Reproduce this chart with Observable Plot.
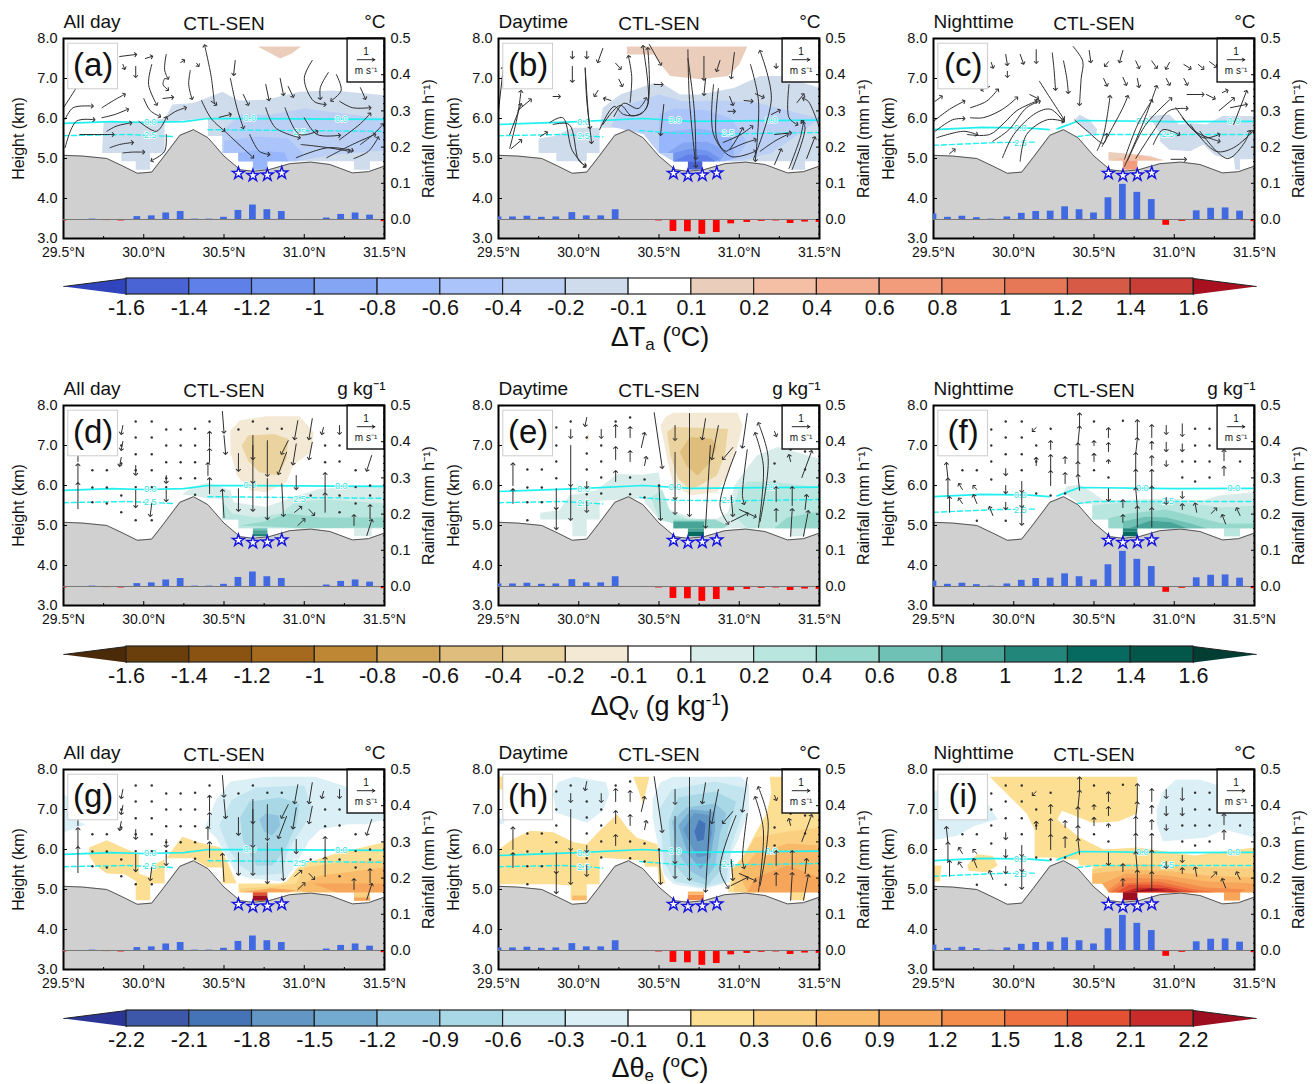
<!DOCTYPE html>
<html><head><meta charset="utf-8">
<script src="https://cdn.jsdelivr.net/npm/d3@7"></script>
<script src="https://cdn.jsdelivr.net/npm/@observablehq/plot@0.6"></script>
<style>
html,body{margin:0;padding:0;background:#fff}
#page{position:relative;width:1314px;height:1084px;overflow:hidden;font-family:"Liberation Sans",Arial,sans-serif;color:#111}
#page>svg,#page>figure{position:absolute;margin:0}
.cbt{position:absolute;left:3px;width:1314px;text-align:center;font-size:27px;line-height:28px}
.cbt sub{font-size:17px;line-height:0;vertical-align:-4px}
.cbt sup{font-size:17px;line-height:0;vertical-align:10px}
</style></head><body><div id="page"></div>
<script>
// ---- shared data -------------------------------------------------------
const terrainLat=[29.5,29.62,29.77,29.87,29.96,30.05,30.12,30.225,30.31,30.4,30.5,30.6,30.68,30.78,30.91,31.04,31.16,31.3,31.4,31.5];
const terrainKm=[5.08,5.06,5.0,4.81,4.63,4.66,5.02,5.58,5.72,5.52,5.06,4.72,4.68,4.72,4.87,4.91,4.85,4.64,4.67,4.81];
const starLat=[30.59,30.68,30.77,30.86];
const starKm=[4.63,4.575,4.59,4.64];
const rainLat=[29.5,29.59,29.68,29.77,29.86,29.96,30.05,30.14,30.23,30.32,30.41,30.5,30.59,30.68,30.77,30.86,30.95,31.05,31.14,31.23,31.32,31.41,31.5];
const rainAllDay=[-0.004,0,0.001,-0.003,-0.004,0.008,0.01,0.018,0.022,0.001,0.001,0.006,0.025,0.04,0.027,0.022,0,-0.001,0.004,0.014,0.018,0.012,-0.006];
const rainDaytime=[0.007,0.007,0.009,0.006,0.007,0.019,0.01,0.01,0.027,0,-0.001,-0.004,-0.033,-0.034,-0.041,-0.036,-0.012,-0.008,-0.005,-0.004,-0.011,-0.007,-0.008];
const rainNighttime=[0.015,0.006,0.009,0.005,0.001,0.007,0.017,0.022,0.023,0.035,0.027,0.018,0.06,0.097,0.075,0.055,-0.016,-0.005,0.024,0.031,0.032,0.023,-0.006];
const rainMinorTicks=[-0.04,-0.02,0.02,0.04,0.06,0.08,0.12,0.14,0.16,0.18,0.22,0.24,0.26,0.28,0.32,0.34,0.36,0.38,0.42,0.44,0.46,0.48];
const latMinorTicks=[29.75,30.25,30.75,31.25];

// Isotherm heights: [lat, km, ...] per segment
const iso0AllDay=[[29.5,5.88,29.8,5.92,30.0,5.9,30.25,5.92,30.4,6.0,31.5,5.98]];
const iso25AllDay=[[29.5,5.57,29.9,5.6,30.18,5.55],[30.4,5.72,31.5,5.68]];
const iso0Daytime=[[29.5,5.85,30.0,5.92,30.4,6.0,30.7,5.93,31.5,5.96]];
const iso25Daytime=[[29.5,5.57,29.9,5.6,30.15,5.54],[30.38,5.7,30.6,5.63,31.0,5.62,31.5,5.65]];
const iso0Nighttime=[[29.5,5.72,29.8,5.78,30.1,5.76,30.22,5.72],[30.27,5.74,30.41,5.95,31.0,5.92,31.5,5.93]];
const iso25Nighttime=[[29.5,5.33,29.9,5.4,30.13,5.41],[30.4,5.55,30.5,5.6,31.5,5.6]];
const isoLabelsAllDay=[["0.0",30.04,5.9],["0.0",30.66,6.0],["0.0",31.23,5.99],["2.5",30.04,5.58],["2.5",30.97,5.66]];
const isoLabelsDaytime=[["0.0",30.03,5.91],["0.0",30.6,5.95],["0.0",31.2,5.97],["2.5",30.03,5.57],["2.5",30.93,5.63]];
const isoLabelsNighttime=[["0.0",30.04,5.77],["0.0",30.8,5.93],["0.0",31.37,5.93],["2.5",30.04,5.39],["2.5",30.96,5.61]];

// Colour bars
const levelsTa=[-1.6,-1.4,-1.2,-1,-0.8,-0.6,-0.4,-0.2,-0.1,0.1,0.2,0.4,0.6,0.8,1,1.2,1.4,1.6];
const colorsTa=["#2f44bd","#4a64d6","#5f80e8","#7094ee","#84a5f4","#98b6fb","#abc5fa","#bcd0f5","#cfdcec","#ffffff","#eacdbb","#f4bfa5","#f4ad90","#f29c7c","#ee8b68","#e67858","#d65a45","#c93f38","#a81020"];
const levelsQv=levelsTa;
const colorsQv=["#4a2a08","#6b3f0c","#8a5312","#a56a1e","#bd8734","#d0a558","#dfbd7c","#ebd3a0","#f4e9d5","#ffffff","#d8ece9","#b9e6df","#97d8cc","#6fc1b5","#47a497","#22867a","#066a60","#02564a","#013d33"];
const levelsTe=[-2.2,-2.1,-1.8,-1.5,-1.2,-0.9,-0.6,-0.3,-0.1,0.1,0.3,0.6,0.9,1.2,1.5,1.8,2.1,2.2];
const colorsTe=["#2a3595","#3d58a8","#4474b5","#6297c5","#73abd0","#90c4de","#a8d7e6","#c3e5ef","#dbeff6","#ffffff","#fddf93","#fbcf80","#f9bb6a","#f7a55a","#f48c4c","#ef7040","#e45032","#c92a2a","#9c0e20"];

// Shaded fields: [band value, [lat, km, lat, km, ...]]
const shadeA=[
[0.15,[30.71,7.8,30.98,7.8,30.92,7.62,30.85,7.5,30.78,7.65]],
[-0.15,[29.75,5.9,29.74,5.14,29.86,5.14,29.86,4.93,29.95,4.93,29.95,4.72,30.04,4.72,30.04,5.14,30.13,5.14,30.13,5.9,30.31,5.98,30.4,6.0,30.4,5.56,30.49,5.56,30.49,5.14,30.59,5.14,30.59,4.93,30.68,4.93,30.68,4.72,30.77,4.72,30.77,4.93,31.31,4.93,31.31,4.72,31.41,4.72,31.41,4.93,31.5,4.93,31.5,6.58,31.18,6.7,30.97,6.67,30.76,6.47,30.59,6.45,30.49,6.67,30.31,6.39,30.18,6.35,30.13,6.0,30.0,5.93]],
[-0.3,[30.49,5.7,30.49,5.14,30.59,5.14,30.59,4.93,30.95,4.93,31.2,5.1,31.5,5.2,31.5,6.0,31.3,6.1,31.0,6.25,30.8,6.1,30.6,6.1]],
[-0.5,[30.5,5.45,30.5,5.14,30.59,5.14,30.59,4.93,30.95,4.93,31.0,5.1,30.9,5.5,30.7,5.55]],
[-0.7,[30.68,4.72,30.77,4.72,30.77,4.93,30.9,4.93,30.88,5.15,30.7,5.2,30.59,5.14,30.59,4.93,30.68,4.93]]];
const shadeB=[
[0.15,[30.3,7.8,31.05,7.8,31.0,7.35,30.93,7.06,30.76,6.98,30.57,7.06,30.51,7.35,30.47,7.6,30.3,7.6]],
[-0.15,[29.75,5.14,29.75,5.5,29.85,5.56,29.96,5.77,30.13,5.77,30.15,6.27,30.26,6.6,30.47,6.89,30.53,6.85,30.63,6.6,30.76,6.6,30.97,6.77,31.13,7.06,31.26,7.06,31.5,6.77,31.5,4.93,31.41,4.93,31.41,4.72,31.32,4.72,31.32,4.93,30.59,4.93,30.59,5.14,30.5,5.14,30.41,5.56,30.41,5.77,30.13,5.77,30.13,5.14,30.05,5.14,30.05,4.93,29.86,4.93,29.86,5.14]],
[-0.3,[30.41,5.6,30.5,5.14,30.59,4.93,31.0,4.93,31.2,5.14,31.35,5.55,31.5,6.0,31.26,6.25,31.1,6.4,30.9,6.45,30.65,6.43,30.5,6.6,30.27,6.3,30.2,5.8]],
[-0.5,[30.5,5.14,30.5,6.1,30.6,6.25,30.8,6.2,30.95,6.0,31.05,5.4,30.98,5.0,30.9,4.93,30.59,4.93,30.59,5.14]],
[-0.7,[30.5,5.14,30.5,5.65,30.75,5.75,30.95,5.6,30.97,5.0,30.9,4.93,30.59,4.93,30.59,5.14]],
[-0.9,[30.55,5.14,30.65,5.4,30.8,5.42,30.92,5.2,30.88,4.93,30.59,4.93,30.59,5.14]],
[-1.1,[30.59,4.93,30.59,5.14,30.7,5.25,30.8,5.2,30.88,5.0,30.85,4.93]],
[-1.3,[30.59,4.93,30.68,5.1,30.8,5.08,30.85,4.93]],
[-1.5,[30.68,4.72,30.77,4.72,30.77,4.93,30.68,4.93]]];
const shadeC=[
[-0.15,[30.38,5.97,30.41,6.1,30.47,5.97,30.52,5.73,30.51,5.56,30.45,5.69,30.4,5.86]],
[-0.15,[30.84,6.06,30.97,6.1,31.03,5.85,31.1,5.89,31.2,5.85,31.3,6.06,31.49,6.06,31.5,4.98,31.41,4.98,31.41,4.72,31.38,4.72,31.37,5.02,31.26,5.06,31.18,5.35,31.1,5.18,30.97,5.22,30.91,5.43,30.91,5.64]],
[0.15,[30.59,5.16,30.72,5.12,30.85,5.06,30.94,4.95,30.59,4.95]],
[0.3,[30.6,4.95,30.76,5.1,30.92,4.95]],
[0.7,[30.68,4.72,30.77,4.72,30.77,4.95,30.68,4.95]]];
const shadeD=[
[-0.15,[30.54,7.38,30.6,7.63,30.76,7.73,30.97,7.73,31.06,7.33,31.04,6.83,30.93,6.5,30.89,6.08,30.76,5.83,30.66,5.88,30.58,6.25,30.54,6.83]],
[-0.3,[30.61,7.0,30.65,7.25,30.81,7.29,30.9,7.17,30.89,6.67,30.84,6.25,30.72,6.33,30.65,6.62]],
[0.15,[30.24,5.77,30.3,5.96,30.4,6.07,30.48,5.96,30.54,5.88,30.56,5.58,30.76,5.46,30.93,5.71,31.1,5.92,31.5,6.02,31.5,4.93,31.42,4.93,31.42,4.73,31.31,4.73,31.31,4.93,30.77,4.93,30.77,4.73,30.68,4.73,30.68,4.93,30.59,4.93,30.59,5.15,30.49,5.15,30.49,5.67,30.4,5.68,30.3,5.75]],
[0.3,[30.49,5.6,30.55,5.3,30.7,5.2,30.85,5.3,30.95,5.6,31.15,5.65,31.5,5.55,31.5,4.93,30.59,4.93,30.59,5.15,30.49,5.15]],
[0.5,[30.6,5.0,30.75,5.1,30.9,5.3,31.1,5.2,31.5,5.2,31.5,4.95,31.0,4.93]],
[0.7,[30.68,4.88,30.77,4.88,30.77,4.93,30.68,4.93]],
[0.9,[30.68,4.8,30.77,4.8,30.77,4.88,30.68,4.88]],
[1.1,[30.68,4.73,30.77,4.73,30.77,4.8,30.68,4.8]]];
const shadeE=[
[-0.15,[30.51,7.5,30.54,7.71,30.59,7.82,30.99,7.82,31.02,7.5,30.99,7.0,30.93,6.25,30.86,5.83,30.7,5.75,30.59,6.0,30.55,6.67]],
[-0.3,[30.55,7.33,30.59,7.46,30.93,7.42,30.91,6.75,30.86,6.25,30.7,5.88,30.62,6.17,30.57,6.75]],
[-0.5,[30.63,6.83,30.69,7.21,30.83,7.17,30.86,6.96,30.82,6.58,30.74,6.25,30.67,6.5]],
[-0.15,[30.04,7.2,30.06,7.3,30.07,7.2,30.05,7.1]],
[0.15,[29.76,5.15,29.76,5.32,29.88,5.38,29.94,5.75,30.11,5.88,30.24,6.29,30.4,6.27,30.5,6.33,30.51,5.96,30.55,5.42,30.72,5.17,30.86,5.17,30.93,5.33,30.97,6.0,31.03,6.33,31.11,6.75,31.24,6.96,31.5,6.67,31.5,4.93,31.41,4.93,31.41,4.73,31.32,4.73,31.32,4.93,30.78,4.93,30.78,4.73,30.68,4.73,30.68,4.93,30.59,4.93,30.59,5.15,30.5,5.15,30.41,5.58,30.41,5.68,30.13,5.62,30.13,5.15,30.05,5.15,30.05,4.73,29.96,4.73,29.96,5.15]],
[0.3,[31.05,4.93,30.95,5.3,31.0,5.9,31.05,6.1,31.2,6.1,31.5,5.95,31.5,4.93]],
[0.3,[30.45,5.7,30.52,5.9,30.57,5.35,30.68,5.15,30.59,5.05,30.5,5.15]],
[0.5,[30.59,4.93,30.59,5.15,30.85,5.15,30.93,5.0,30.9,4.93]],
[0.5,[31.22,4.93,31.3,5.2,31.5,5.35,31.5,4.93]],
[0.9,[30.59,4.93,30.59,5.1,30.78,5.1,30.78,4.93]],
[0.9,[30.68,4.85,30.78,4.85,30.78,4.93,30.68,4.93]],
[1.3,[30.68,4.73,30.78,4.73,30.78,4.85,30.68,4.85]]];
const shadeF=[
[0.15,[30.31,5.83,30.33,5.98,30.41,6.02,30.47,5.88,30.56,5.63,30.97,5.67,31.18,5.63,31.28,5.75,31.5,5.83,31.5,4.93,31.41,4.93,31.41,4.73,31.31,4.73,31.31,4.93,30.77,4.93,30.77,4.73,30.68,4.73,30.68,4.93,30.59,4.93,30.59,5.15,30.49,5.15,30.49,5.54,30.41,5.54,30.33,5.77]],
[0.3,[30.49,5.15,30.49,5.5,30.7,5.58,30.9,5.62,31.1,5.55,31.3,5.45,31.5,5.5,31.5,4.93,31.41,4.93,31.41,4.73,31.31,4.73,31.31,4.93,30.59,4.93,30.59,5.15]],
[0.5,[30.59,4.93,30.59,5.18,30.72,5.3,30.95,5.4,31.1,5.25,31.3,5.05,31.5,5.05,31.5,4.93]],
[0.7,[30.68,4.93,30.68,5.1,30.82,5.22,30.95,5.2,31.1,5.05,31.2,4.93]],
[0.9,[30.72,4.93,30.85,5.12,30.98,5.08,31.08,4.93]],
[1.1,[30.68,4.85,30.77,4.85,30.77,4.93,30.68,4.93]],
[1.3,[30.68,4.73,30.77,4.73,30.77,4.85,30.68,4.85]]];
const shadeG=[
[-0.2,[29.5,7.38,29.54,7.3,29.58,6.72,29.64,6.63,29.52,6.45,29.5,6.45]],
[-0.2,[30.38,6.55,30.45,7.25,30.54,7.7,30.76,7.82,31.07,7.82,31.24,7.6,31.5,7.15,31.5,6.75,31.39,6.63,31.27,6.63,31.1,6.5,31.03,6.22,30.93,5.5,30.87,5.2,30.66,5.28,30.58,5.38,30.52,5.8,30.45,6.3]],
[-0.4,[30.47,6.6,30.55,7.25,30.7,7.55,31.0,7.6,31.05,7.0,31.0,6.6,30.9,6.0,30.86,5.4,30.7,5.35,30.6,5.6,30.53,6.0]],
[-0.7,[30.6,6.8,30.66,7.2,30.85,7.3,30.97,7.15,30.95,6.6,30.88,6.0,30.8,5.6,30.7,5.6,30.62,6.2]],
[-1.0,[30.72,6.75,30.76,6.9,30.84,6.85,30.85,6.6,30.8,6.35,30.75,6.45]],
[0.2,[29.66,5.85,29.66,6.05,29.77,6.23,29.87,6.05,29.97,5.88,29.97,5.4,30.04,5.3,30.05,5.6,30.13,5.75,30.13,5.15,30.04,5.15,30.04,4.73,29.95,4.73,29.95,5.22,29.88,5.38,29.77,5.4,29.7,5.6]],
[0.2,[30.14,5.78,30.24,6.32,30.35,6.17,30.48,6.05,30.52,5.7,30.55,5.4,30.58,5.15,30.49,5.15,30.49,5.55,30.4,5.55,30.3,5.78]],
[0.2,[30.89,5.2,30.97,5.6,31.18,5.88,31.5,6.18,31.5,4.93,31.41,4.93,31.41,4.72,31.31,4.72,31.31,4.93,30.77,4.93,30.77,4.72,30.68,4.72,30.68,4.93,30.59,4.93,30.59,5.15,30.85,5.15]],
[0.4,[30.95,5.15,31.0,5.55,31.18,5.65,31.5,5.75,31.5,4.93,31.41,4.93,31.41,4.72,31.31,4.72,31.31,4.93,30.6,4.93,30.6,5.02,30.8,5.08]],
[0.7,[30.95,5.05,31.1,5.35,31.5,5.55,31.5,4.93,31.0,4.93]],
[1.0,[31.05,5.15,31.5,5.15,31.5,4.93,31.2,4.93]],
[1.0,[30.6,4.93,30.8,5.03,30.95,4.98,30.9,4.93]],
[1.0,[31.31,4.72,31.41,4.72,31.41,4.8,31.31,4.8]],
[1.9,[30.68,4.85,30.77,4.85,30.77,4.93,30.68,4.93]],
[2.3,[30.68,4.72,30.77,4.72,30.77,4.85,30.68,4.85]]];
const shadeH=[
[0.2,[29.5,7.82,29.53,7.82,29.53,7.5,29.5,7.5]],
[0.2,[30.34,7.82,30.44,7.82,30.4,7.13,30.37,7.5]],
[-0.2,[29.87,7.68,29.97,7.82,30.17,7.68,30.19,7.38,30.15,6.97,30.05,6.67,29.86,6.92,29.84,7.38]],
[-0.2,[29.5,6.8,29.54,6.72,29.53,6.63,29.5,6.63]],
[0.2,[29.5,6.0,29.59,6.26,29.7,6.47,29.84,6.43,29.97,6.18,30.05,6.13,30.13,6.47,30.24,6.88,30.3,6.55,30.36,6.3,30.49,6.13,30.51,5.6,30.54,5.15,30.5,5.15,30.49,5.57,30.41,5.57,30.41,5.72,30.13,5.8,30.13,5.13,30.05,5.13,30.05,4.73,29.95,4.73,29.95,5.1,29.84,5.13,29.5,5.13]],
[-0.2,[30.46,7.26,30.51,7.68,30.59,7.82,31.01,7.82,31.06,7.63,31.06,6.97,30.99,6.22,30.95,5.88,30.94,5.18,30.78,5.01,30.59,5.13,30.53,5.38,30.5,5.97,30.46,6.8]],
[-0.4,[30.5,7.0,30.58,7.5,30.85,7.7,31.03,7.55,31.03,7.0,30.95,6.1,30.92,5.2,30.78,5.05,30.6,5.2,30.53,5.7]],
[-0.7,[30.56,6.7,30.62,7.3,30.85,7.45,30.98,7.2,30.93,6.5,30.89,5.5,30.8,5.1,30.68,5.25,30.58,5.7]],
[-1.0,[30.58,6.7,30.67,7.05,30.85,7.15,30.92,6.9,30.88,6.4,30.85,5.6,30.79,5.25,30.7,5.45,30.62,5.9]],
[-1.3,[30.62,6.6,30.7,7.0,30.85,6.95,30.85,6.5,30.82,5.8,30.76,5.5,30.68,5.9]],
[-1.6,[30.65,6.5,30.72,6.92,30.82,6.85,30.83,6.4,30.8,5.85,30.74,5.8,30.7,6.1]],
[-1.9,[30.72,6.45,30.75,6.75,30.79,6.65,30.78,6.25,30.74,6.2]],
[0.2,[31.19,7.82,31.5,7.82,31.5,4.93,31.41,4.93,31.41,4.73,31.32,4.73,31.32,4.93,30.93,4.93,30.94,5.15,31.03,5.85,31.1,6.4,31.17,6.9,31.2,7.4]],
[0.4,[30.95,5.5,31.0,5.7,31.1,6.3,31.3,6.45,31.5,6.55,31.5,4.93,30.97,4.93]],
[0.7,[31.0,5.4,31.1,5.9,31.3,6.15,31.5,6.1,31.5,4.93,31.05,4.93]],
[1.0,[31.05,4.93,31.1,5.3,31.3,5.6,31.5,5.3,31.5,4.93]],
[0.7,[29.96,4.73,30.05,4.73,30.05,4.85,29.96,4.85]],
[0.7,[30.68,4.87,30.78,4.87,30.78,4.95,30.68,4.95]],
[1.3,[30.68,4.73,30.78,4.73,30.78,4.87,30.68,4.87]]];
const shadeI=[
[-0.2,[29.5,7.45,29.6,7.6,29.7,7.5,29.82,7.25,29.9,6.75,29.76,6.6,29.65,6.35,29.52,6.25,29.5,6.25]],
[-0.2,[30.89,7.0,30.93,7.45,31.01,7.75,31.16,7.75,31.31,7.55,31.5,7.25,31.5,6.3,31.31,6.5,31.2,6.3,30.93,6.2,30.89,6.65]],
[0.2,[29.85,7.82,30.77,7.82,30.77,6.9,30.65,6.7,30.49,6.67,30.3,6.97,30.27,6.75,30.41,6.3,30.56,6.0,30.77,6.05,31.13,5.85,31.26,5.93,31.5,6.05,31.5,4.93,31.41,4.93,31.41,4.73,31.31,4.73,31.31,4.93,30.77,4.93,30.77,4.73,30.68,4.73,30.68,4.93,30.59,4.93,30.59,5.15,30.49,5.15,30.49,5.6,30.41,5.6,30.4,5.75,30.3,5.75,30.25,5.8,30.13,5.8,30.13,6.5,30.08,6.9,29.98,7.3]],
[0.2,[29.71,5.6,29.77,5.88,29.87,5.84,29.9,5.6,29.83,5.43,29.72,5.47]],
[0.2,[29.5,5.6,29.55,5.6,29.54,5.2,29.5,5.2]],
[0.4,[30.49,5.5,30.7,5.65,31.0,5.6,31.2,5.55,31.5,5.55,31.5,4.93,31.41,4.93,31.41,4.73,31.31,4.73,31.31,4.93,30.59,4.93,30.59,5.15,30.49,5.15]],
[0.7,[30.49,5.15,30.49,5.4,30.72,5.5,31.0,5.45,31.2,5.35,31.5,5.3,31.5,4.93,31.41,4.93,31.41,4.73,31.31,4.73,31.31,4.93,30.59,4.93,30.59,5.15]],
[1.0,[30.55,5.15,30.7,5.4,30.95,5.35,31.2,5.2,31.5,5.15,31.5,4.93,31.41,4.93,31.41,4.73,31.31,4.73,31.31,4.93,30.59,4.93]],
[1.3,[30.59,5.0,30.7,5.3,30.95,5.25,31.2,5.05,31.45,5.0,31.41,4.93,30.59,4.93]],
[1.6,[30.6,4.93,30.68,5.15,30.9,5.2,31.1,5.02,31.25,4.93]],
[1.9,[30.64,4.93,30.72,5.12,30.9,5.12,31.05,5.0,31.15,4.93]],
[2.15,[30.68,4.93,30.77,5.05,30.95,5.03,31.05,4.93]],
[2.3,[30.68,4.73,30.77,4.73,30.77,4.93,30.68,4.93]],
[2.3,[30.72,4.93,30.85,5.03,30.95,4.98]]];

// Curly wind vectors, upper row: [lat, km, lat, km, ...] tail to head
const curlyAllDay=[
[29.5,6.27,29.58,6.77,29.62,7.06],[29.51,5.98,29.56,6.27,29.68,6.31],[29.51,5.27,29.58,5.93,29.69,5.97],[29.74,6.27,29.82,6.47,29.88,6.6],[29.74,6.02,29.82,6.1,29.9,6.23],[29.77,5.68,29.83,5.81,29.92,5.89],[29.6,5.6,29.71,5.6,29.81,5.6],[29.79,5.27,29.85,5.35,29.93,5.4],[29.87,5.14,29.93,5.16,30.0,5.16],[30.05,7.35,30.03,6.85,30.08,6.35],[30.14,7.6,30.13,7.22,30.15,7.0],[30.13,7.0,30.12,6.85,30.15,6.72],[30.0,6.5,30.04,6.2,30.1,6.05],[30.12,6.5,30.18,6.53],[30.14,6.02,30.2,6.18,30.26,6.27],[29.97,5.93,30.08,5.68,30.14,6.02],[30.14,5.6,30.13,5.18,30.05,4.95],[29.85,7.55,29.95,7.6],[30.01,7.5,30.05,7.55],[29.87,7.35,29.88,7.25],[29.95,7.3,29.95,7.05],[30.23,7.4,30.25,7.45],[30.33,7.38,30.34,7.32],
[30.44,6.37,30.42,7.05,30.38,7.82],[30.36,6.45,30.42,6.0,30.5,5.7],[30.29,7.2,30.28,6.85,30.3,6.5],[30.42,6.43,30.45,6.35],[30.54,7.0,30.58,6.27,30.62,5.77],[30.57,7.45,30.56,7.1],[30.5,5.7,30.58,5.4,30.68,5.03],[30.47,6.03,30.54,6.1],[30.66,5.6,30.72,5.18,30.78,5.1],[30.76,6.27,30.82,5.77,30.97,5.52],[30.88,6.27,30.97,5.6,31.08,5.68],[30.76,6.85,30.78,6.47],[30.85,7.0,30.87,6.6],[31.05,7.45,31.0,7.0,31.06,6.43,31.13,6.35],[31.15,7.15,31.1,6.77,31.1,6.5],[31.2,7.1,31.23,6.7,31.17,6.45],[31.0,6.02,31.08,5.6,31.22,5.58],[30.98,5.35,31.15,5.27,31.28,5.18],[30.95,5.02,31.15,5.27,31.3,5.2],[31.22,5.47,31.35,5.87,31.41,6.12],[31.14,5.02,31.3,5.35,31.44,5.6],[31.31,5.0,31.4,5.18,31.46,5.52],[31.22,6.43,31.3,6.27,31.41,6.27],[31.35,5.35,31.43,5.6,31.49,5.85],[31.35,6.77,31.38,6.5],[31.28,7.2,31.32,6.95],[30.9,6.8,30.93,6.55],[30.62,6.6,30.65,6.35]];
const curlyDaytime=[
[29.5,6.2,29.53,7.27],[29.57,5.25,29.62,6.1,29.64,6.68],[29.57,5.6,29.64,6.35],[29.62,6.2,29.7,6.47],[29.58,5.25,29.64,5.45],[29.76,5.55,29.8,5.65],[29.84,6.55,29.88,6.55],[29.82,5.9,29.9,6.02,29.96,5.2,30.04,4.8],[29.84,5.85,29.94,5.85,30.0,4.95,30.04,4.83],[30.04,7.27,30.06,6.1,30.07,5.77],[30.04,7.25,30.05,6.45,30.08,5.4],[29.96,7.3,29.96,6.93],[29.96,7.68,29.96,7.52],[30.05,7.68,30.05,7.52],[30.15,7.75,30.12,7.42],[30.23,7.38,30.26,7.25],[30.25,6.98,30.27,6.82],[30.12,6.7,30.1,6.57],[30.2,6.45,30.16,6.5],
[30.32,6.4,30.33,7.05,30.31,7.55],[30.13,5.72,30.22,6.3,30.28,6.1,30.38,6.1,30.43,6.35,30.4,7.8],[30.15,5.85,30.26,6.33,30.33,6.07,30.42,6.25,30.43,7.75],[30.22,6.05,30.28,6.38,30.37,6.25,30.42,6.5],[30.53,6.35,30.51,5.6],[30.47,6.85,30.52,6.85],[30.44,7.85,30.51,7.35],[30.68,7.72,30.69,6.45,30.73,4.8],[30.68,7.5,30.72,6.2,30.73,5.0],[30.78,7.55,30.78,6.98],[30.79,6.98,30.78,6.6],[30.88,7.45,30.86,7.2],[30.97,7.65,30.95,7.02],[30.84,6.85,30.84,5.6,30.95,5.05,31.1,5.18],[30.87,6.75,30.86,5.5,30.92,5.18,31.02,5.75],[30.9,5.4,31.01,5.6,31.08,5.8],[30.94,5.22,31.03,5.38,31.1,5.47],[31.09,5.0,31.2,6.5,31.13,7.68],[31.07,7.35,31.12,6.43,31.1,4.95],[30.94,6.55,30.96,6.35],[30.93,6.18,30.97,6.18],[31.03,6.45,31.08,6.43],[31.23,7.37,31.23,7.28],[31.31,6.85,31.31,6.02,31.36,5.85],[31.5,5.77,31.43,6.43,31.4,6.5],[31.33,4.73,31.41,5.77,31.39,5.93],[31.31,4.75,31.38,5.52,31.4,5.9],[31.22,4.85,31.26,5.22],[31.22,5.6,31.32,5.64],[31.13,5.18,31.22,5.43,31.3,5.6],[31.42,5.0,31.47,5.52],[31.1,6.62,31.15,6.53],[31.36,6.4,31.4,6.6],[31.2,6.1,31.25,6.2]];
const curlyNighttime=[
[29.5,5.93,29.6,6.23,29.69,6.43],[29.51,6.43,29.55,6.55],[29.51,5.68,29.62,5.97,29.69,6.0],[29.52,5.52,29.69,5.68,29.77,5.6],[29.73,6.27,29.83,6.43,29.9,6.72],[29.73,6.02,29.81,6.02,29.93,6.23,30.02,6.52],[29.71,5.6,29.85,5.6,29.94,5.89,30.02,6.2,30.14,6.43],[29.87,5.43,29.97,5.72,30.08,6.27,30.16,6.43],[29.93,5.02,30.0,5.6,30.14,6.14,30.23,6.23,30.31,5.93],[30.04,4.93,30.08,5.6,30.21,5.97,30.31,5.93],[30.16,6.93,30.24,6.43,30.31,6.0],[30.24,7.64,30.25,7.27,30.26,6.73],[30.31,7.44,30.33,7.02,30.34,6.65],[30.14,7.72,30.14,7.4],[29.95,7.6,29.96,7.35],[29.86,7.4,29.87,7.28],[30.04,7.6,30.06,7.38],[29.96,7.18,29.96,7.05],[29.85,6.8,29.8,6.72],[30.1,6.6,30.15,6.5],
[30.37,7.8,30.43,7.43,30.42,7.0,30.41,6.35],[30.47,7.7,30.48,7.42],[30.59,7.42,30.57,7.32],[30.68,7.7,30.66,7.42],[30.76,7.44,30.78,7.27],[30.86,7.44,30.89,7.27],[30.97,7.4,30.95,7.25],[31.06,7.35,31.1,7.25],[31.15,7.35,31.18,7.25],[31.22,7.42,31.26,7.3],[30.56,7.0,30.58,6.83],[30.68,7.03,30.7,6.85],[30.77,7.0,30.78,6.8],[30.95,7.0,30.97,6.85],[31.06,7.0,31.08,6.85],[31.2,6.6,31.25,6.5],[31.3,6.65,31.33,6.7],
[30.38,5.96,30.46,5.68,30.56,5.38,30.58,5.6],[30.52,5.2,30.56,5.6,30.6,6.55],[30.55,5.3,30.68,6.27,30.71,6.55],[30.69,4.98,30.77,5.83,30.86,6.45],[30.69,4.8,30.8,5.83,30.89,6.8],[30.71,4.95,30.82,5.83,30.98,6.5],[30.76,5.0,30.87,5.68,30.97,6.2,31.08,6.25],[30.87,5.35,30.93,5.72,31.03,5.6],[31.01,6.27,31.13,5.68,31.28,5.43],[31.05,6.02,31.18,5.52,31.28,5.6],[31.16,5.68,31.33,5.0,31.43,5.35,31.47,5.68],[31.1,5.85,31.26,5.18,31.37,5.27,31.49,5.68],[31.35,6.27,31.45,6.35],[31.37,5.85,31.45,6.68],[31.08,6.6,31.18,6.6],[31.28,6.2,31.37,6.5],[30.98,4.98,31.07,4.98],[29.6,5.12,29.63,5.22]];

// Straight wind vectors, lower rows
const vecAllDay=[
[29.59,5.42,29.59,6.05],[29.59,6.05,29.59,6.52],[29.59,6.6,29.59,6.8],[29.87,7.5,29.86,7.3],[29.87,7.1,29.86,6.9],[29.86,6.7,29.85,6.5],[29.95,5.88,29.95,5.47],[29.95,6.5,29.95,6.28],[30.05,5.55,30.04,5.25],[30.14,6.25,30.14,6.08],[30.14,5.88,30.14,5.62],[30.41,6.96,30.41,7.33],[30.41,6.58,30.41,6.9],[30.4,6.25,30.4,6.55],[30.41,5.8,30.41,6.17],[30.49,7.85,30.5,7.33],[30.5,5.2,30.49,5.88],[30.5,7.25,30.51,6.8],[30.59,6.8,30.59,6.38],[30.59,5.92,30.59,5.38],[30.68,7.25,30.68,6.67],[30.68,7.0,30.68,6.08],[30.68,6.04,30.68,5.38],[30.77,7.12,30.77,6.25],[30.77,6.17,30.77,5.17],[30.9,7.12,30.86,6.8],[30.89,6.83,30.84,6.3],[30.86,6.04,30.87,5.25],[30.96,7.62,30.94,7.17],[30.95,7.04,30.93,6.54],[30.95,6.25,30.95,5.92],[31.05,7.67,31.03,7.17],[31.05,7.08,31.03,6.67],[30.94,5.33,30.98,5.46],[30.96,5.0,31.0,5.15],[31.03,5.4,31.06,5.27],[31.12,7.45,31.11,7.3],[31.22,7.5,31.22,7.3],[31.13,5.83,31.13,6.3],[31.13,5.33,31.13,5.79],[31.31,5.0,31.31,5.25],[31.42,6.75,31.39,6.38],[31.41,5.17,31.41,5.5],[31.39,4.75,31.42,5.13]];
const dotsAllDay=[[29.68,[6.38,5.95,5.58]],[29.77,[6.38,5.95,5.55]],[29.86,[7.0,6.55,5.75,5.33]],[29.95,[7.6,7.2,6.78,6.38,5.96,5.13]],[30.05,[7.6,7.2,6.78,6.38,5.96,5.13]],[30.14,[7.4,7.0,6.58,6.18,5.96]],[30.23,[7.4,7.0,6.58,6.18]],[30.32,[7.42,7.0,6.58,6.18,5.77]],[30.41,[7.6]],[30.59,[7.4]],[30.68,[7.6]],[30.77,[7.42]],[30.86,[7.42]],[31.04,[5.75]],[31.13,[7.0,6.58]],[31.22,[7.0,6.6,5.75,5.33]],[31.32,[6.38,5.96,5.55]],[31.41,[5.75,6.0]]];
const vecDaytime=[
[29.59,6.0,29.59,6.54],[29.59,5.55,29.59,5.9],[29.86,5.92,29.86,5.42],[29.86,5.42,29.86,4.92],[29.95,7.0,29.95,6.0],[29.95,6.0,29.95,5.15],[29.95,7.4,29.95,7.2],[30.05,7.7,30.04,7.5],[30.05,6.1,30.05,5.95],[30.05,5.6,30.05,5.35],[30.14,7.4,30.14,7.2],[30.23,7.2,30.23,7.5],[30.23,6.65,30.23,6.95],[30.23,6.1,30.23,6.35],[30.32,7.2,30.32,7.45],[30.32,6.6,30.32,6.85],[30.39,6.95,30.41,7.3],[30.41,6.5,30.42,6.7],[30.47,7.82,30.52,6.45],[30.5,6.0,30.51,5.15],[30.6,7.5,30.6,7.15],[30.6,6.83,30.6,5.67],[30.6,5.6,30.6,5.3],[30.69,7.8,30.69,5.25],[30.79,7.67,30.77,7.17],[30.87,7.5,30.83,6.67],[30.82,7.0,30.79,4.96],[30.96,6.95,30.9,6.67],[31.05,7.8,31.02,6.96],[30.98,6.85,30.88,5.5,30.93,5.05],[31.05,6.9,31.02,5.75,31.03,5.55],[31.13,5.1,31.18,6.7,31.12,7.55],[31.12,4.95,31.15,6.5,31.1,7.3],[30.95,5.75,30.96,5.25],[31.0,5.4,31.1,5.22],[30.95,5.1,31.05,5.3],[31.23,5.6,31.23,5.95],[31.23,5.1,31.23,5.4],[31.32,4.73,31.33,5.4],[31.33,5.5,31.33,5.95],[31.32,6.6,31.31,6.75],[31.4,4.73,31.43,5.35],[31.39,6.2,31.45,6.85],[31.41,5.4,31.42,5.75],[31.22,7.35,31.23,7.25]];
const dotsDaytime=[[29.68,[6.4,5.95,5.58,5.13]],[29.77,[6.4,5.95,5.58]],[29.86,[7.45,7.0,6.6,6.18]],[29.95,[7.6]],[30.05,[7.2,6.8,6.4,5.78]],[30.14,[7.0,6.6,6.2,5.8]],[30.23,[7.6]],[30.32,[7.7,6.2,5.78]],[30.41,[6.15,5.7]],[30.5,[6.0]],[31.22,[6.55,6.1]],[31.32,[6.9]],[31.41,[6.85,6.4]]];
const vecNighttime=[
[29.6,5.33,29.6,5.7],[29.59,5.7,29.59,6.16],[29.59,6.17,29.58,6.55],[29.68,5.9,29.66,6.03],[29.68,5.55,29.66,5.67],[29.77,5.55,29.75,5.75],[29.77,5.9,29.75,5.98],[29.87,5.25,29.85,5.45],[29.95,6.42,29.95,6.27],[29.95,6.0,29.95,5.82],[29.95,5.58,29.95,5.42],[30.05,6.1,30.05,5.85],[30.05,5.83,30.05,5.47],[30.05,5.42,30.05,5.03],[30.14,7.45,30.12,7.37],[30.14,6.5,30.14,6.68],[30.23,6.35,30.23,6.75],[30.23,6.0,30.23,6.35],[30.23,6.9,30.23,7.1],[30.32,6.05,30.32,6.3],[30.32,6.55,30.32,6.7],[30.41,5.88,30.4,6.25],[30.4,6.25,30.4,6.57],[30.4,6.57,30.4,7.04],[30.4,7.04,30.41,7.46],[30.41,7.46,30.41,7.79],[30.5,6.6,30.5,6.78],[30.5,7.0,30.5,7.1],[30.59,5.92,30.59,5.63],[30.59,7.2,30.59,7.42],[30.59,6.85,30.59,7.05],[30.59,6.55,30.59,6.62],[30.68,5.08,30.68,5.25],[30.68,5.45,30.68,5.62],[30.77,4.96,30.77,5.46],[30.77,5.46,30.76,5.92],[30.76,5.92,30.76,6.38],[30.76,6.38,30.76,6.8],[30.76,6.8,30.77,7.17],[30.77,7.17,30.77,7.62],[30.86,7.2,30.86,7.5],[30.86,6.9,30.86,7.08],[30.86,6.5,30.86,6.72],[30.86,4.96,30.86,5.42],[30.86,5.42,30.86,5.96],[30.86,5.96,30.86,6.38],[30.95,7.5,30.95,7.3],[30.95,7.08,30.95,6.87],[30.95,6.62,30.95,6.5],[31.05,7.54,31.05,7.25],[31.05,7.04,31.05,6.87],[31.14,5.33,31.13,5.54],[31.05,5.85,31.05,5.7],[31.23,5.3,31.26,5.42],[31.32,5.04,31.3,5.25],[31.41,5.25,31.39,5.42],[31.05,5.4,31.05,5.52],[30.95,5.7,30.95,5.55],[31.31,6.62,31.31,6.87],[31.31,6.25,31.31,6.46]];
const dotsNighttime=[[29.68,[6.38]],[29.77,[6.38,5.12]],[29.86,[7.4,7.0,6.6,6.15]],[29.95,[7.6,7.2,6.78,5.12]],[30.05,[7.6,7.2,6.78,6.38]],[30.14,[7.0,6.6,5.8]],[30.23,[7.42,5.75]],[30.32,[5.8]],[30.5,[7.6,6.38]],[30.59,[6.2]],[30.68,[7.62]],[31.05,[6.6,6.2]],[31.13,[7.42,7.0,6.6,6.1]],[31.22,[7.42,7.0,6.6,6.2]],[31.32,[7.42]],[31.41,[7.42,7.0,6.6]]];

// ---- panel table --------------------------------------------------------
const frameLeft=[63,498,933], frameTop=[38,405,769];
const panelW=321, panelH=200, mL=63, mR=55, mT=30, mB=30;
const periods=[
 {name:"All day",rain:rainAllDay,iso0:iso0AllDay,iso25:iso25AllDay,isoL:isoLabelsAllDay,curly:curlyAllDay,vec:vecAllDay,dots:dotsAllDay},
 {name:"Daytime",rain:rainDaytime,iso0:iso0Daytime,iso25:iso25Daytime,isoL:isoLabelsDaytime,curly:curlyDaytime,vec:vecDaytime,dots:dotsDaytime},
 {name:"Nighttime",rain:rainNighttime,iso0:iso0Nighttime,iso25:iso25Nighttime,isoL:isoLabelsNighttime,curly:curlyNighttime,vec:vecNighttime,dots:dotsNighttime}];
const rows=[
 {unit:"°C",levels:levelsTa,colors:colorsTa,letters:["(a)","(b)","(c)"],shades:[shadeA,shadeB,shadeC],curly:true},
 {unit:"g kg⁻¹",levels:levelsQv,colors:colorsQv,letters:["(d)","(e)","(f)"],shades:[shadeD,shadeE,shadeF],curly:false},
 {unit:"°C",levels:levelsTe,colors:colorsTe,letters:["(g)","(h)","(i)"],shades:[shadeG,shadeH,shadeI],curly:false}];

const font='"Liberation Sans",Arial,sans-serif';
const page=document.getElementById("page");
const ink="#2e2e2e";
function pairs(flat){const o=[];for(let i=0;i<flat.length;i+=2)o.push([flat[i],flat[i+1]]);return o;}
function polys(list){return list.flatMap(([v,flat],id)=>pairs(flat).map(p=>({id,v,lat:p[0],km:p[1]})));}
function lines(list){return list.flatMap((flat,id)=>pairs(flat).map(p=>({id,lat:p[0],km:p[1]})));}
function place(svg,l,t){svg.style.position="absolute";svg.style.left=l+"px";svg.style.top=t+"px";page.appendChild(svg);}

rows.forEach((row,ri)=>periods.forEach((per,ci)=>{
  const terrain=terrainLat.map((lat,i)=>({lat,km:terrainKm[i]}));
  const stars=starLat.map((lat,i)=>({lat,km:starKm[i]}));
  const windLines=row.curly?per.curly:per.vec;
  const dots=row.curly?[]:per.dots.flatMap(([lat,k])=>k.map(km=>({lat,km})));
  const main=Plot.plot({
    width:panelW+mL+mR,height:panelH+mT+mB,marginLeft:mL,marginRight:mR,marginTop:mT,marginBottom:mB,
    style:{fontFamily:font,background:"transparent",overflow:"visible"},
    x:{domain:[29.5,31.5]},y:{domain:[3,8]},
    color:{type:"threshold",domain:row.levels,range:row.colors},
    marks:[
      Plot.line(polys(row.shades[ci]),{x:"lat",y:"km",z:"id",fill:"v",stroke:"none",curve:"linear"}),
      Plot.areaY(terrain,{x:"lat",y1:3,y2:"km",fill:"#d0d0d0"}),
      Plot.line(terrain,{x:"lat",y:"km",stroke:"#555",strokeWidth:1}),
      Plot.line(lines(per.iso0),{x:"lat",y:"km",z:"id",stroke:"#20f0f0",strokeWidth:1.7}),
      Plot.line(lines(per.iso25),{x:"lat",y:"km",z:"id",stroke:"#20f0f0",strokeWidth:1.4,strokeDasharray:"5,3"}),
      Plot.text(per.isoL,{x:d=>d[1],y:d=>d[2],text:d=>d[0],fill:"#35e0e0",fontSize:9,stroke:"white",strokeWidth:1.5}),
      Plot.line(lines(windLines),{x:"lat",y:"km",z:"id",stroke:ink,strokeWidth:1,curve:"catmull-rom",markerEnd:"arrow"}),
      Plot.dot(dots,{x:"lat",y:"km",r:1.2,fill:ink}),
      Plot.dot(stars,{x:"lat",y:"km",symbol:"star",r:3.8,stroke:"#1414e0",strokeWidth:1.4,fill:"white"}),
      Plot.rect([0],{x1:29.53,x2:29.84,y1:6.73,y2:7.87,fill:"white",stroke:"#ccc",strokeWidth:1}),
      Plot.text([row.letters[ci]],{x:29.685,y:7.33,fontSize:33,fill:"#111"}),
      Plot.rect([0],{x1:31.27,x2:31.5,y1:6.9,y2:8,fill:"white",stroke:"#111",strokeWidth:1.4}),
      Plot.text(["1"],{x:31.385,y:7.68,fontSize:10,fill:"#111"}),
      Plot.arrow([0],{x1:31.33,x2:31.44,y1:7.47,y2:7.47,stroke:"#111",strokeWidth:0.9,headLength:5}),
      Plot.text(["m s⁻¹"],{x:31.385,y:7.2,fontSize:10,fill:"#111"}),
      Plot.frame({stroke:"#000",strokeWidth:2}),
      Plot.axisX({ticks:latMinorTicks,tickFormat:()=>"",tickSize:-2,label:null,stroke:"#000"}),
      Plot.axisX({ticks:[29.5,30,30.5,31,31.5],tickFormat:d=>d.toFixed(1)+"°N",tickSize:-4,tickPadding:13,fontSize:14,label:null,stroke:"#000"}),
      Plot.axisY({ticks:[3,4,5,6,7,8],tickFormat:d=>d.toFixed(1),tickSize:-4,tickPadding:10,fontSize:14.5,label:null,stroke:"#000"}),
      Plot.text(["Height (km)"],{frameAnchor:"left",textAnchor:"middle",rotate:-90,dx:-45,fontSize:16,fill:"#111"}),
      Plot.text([per.name],{frameAnchor:"top-left",dy:-24,dx:0,fontSize:19,textAnchor:"start",fill:"#111"}),
      Plot.text(["CTL-SEN"],{frameAnchor:"top",dy:-22,dx:0,fontSize:19,fill:"#111"}),
      Plot.text([row.unit],{frameAnchor:"top-right",dy:-24,dx:1,fontSize:19,textAnchor:"end",fill:"#111"})
    ]});
  place(main,frameLeft[ci]-mL,frameTop[ri]-mT);
  const rain=rainLat.map((lat,i)=>({lat,v:per.rain[i]}));
  const over=Plot.plot({
    width:panelW+mL+mR,height:panelH+mT+mB,marginLeft:mL,marginRight:mR,marginTop:mT,marginBottom:mB,
    style:{fontFamily:font,background:"transparent",overflow:"visible"},
    x:{domain:[29.5,31.5],axis:null},y:{domain:[-0.0525,0.5]},
    marks:[
      Plot.rectY(rain,{x1:d=>d.lat-0.021,x2:d=>d.lat+0.021,y1:0,y2:"v",fill:d=>d.v<0?"#f00":"#4169e1",clip:true}),
      Plot.ruleY([0],{stroke:"#777",strokeWidth:1,clip:true}),
      Plot.axisY({anchor:"right",ticks:rainMinorTicks,tickFormat:()=>"",tickSize:-2,label:null,stroke:"#000"}),
      Plot.axisY({anchor:"right",ticks:[0,0.1,0.2,0.3,0.4,0.5],tickFormat:d=>d.toFixed(1),tickSize:-4,tickPadding:10,fontSize:14.5,label:null,stroke:"#000"}),
      Plot.text(["Rainfall (mm h⁻¹)"],{frameAnchor:"right",textAnchor:"middle",rotate:-90,dx:44,fontSize:16,fill:"#111"})
    ]});
  place(over,frameLeft[ci]-mL,frameTop[ri]-mT);
}));

// ---- colour bars --------------------------------------------------------
const barTop=[278,646,1010];
const barTitles=['ΔT<sub>a</sub> (<sup>o</sup>C)','ΔQ<sub>v</sub> (g kg<sup>-1</sup>)','Δθ<sub>e</sub> (<sup>o</sup>C)'];
const titleTop=[323,692,1054];
rows.forEach((row,ri)=>{
  const n=row.levels.length;
  const cells=d3.range(1,n).map(i=>({i,c:row.colors[i]}));
  const tipL=[{x:0,y:0},{x:0,y:1},{x:-1,y:.5}], tipR=[{x:n-1,y:0},{x:n-1,y:1},{x:n,y:.5}];
  const cb=Plot.plot({
    width:1314,height:60,marginLeft:0,marginRight:0,marginTop:0,marginBottom:44,
    style:{fontFamily:font,background:"transparent",overflow:"visible"},
    x:{domain:[-2,n+1],range:[126-2*62.76,1193+2*62.76]},
    y:{domain:[0,1],axis:null},
    marks:[
      Plot.line(tipL,{x:"x",y:"y",fill:row.colors[0],stroke:"#222",strokeWidth:1}),
      Plot.line(tipR,{x:"x",y:"y",fill:row.colors[n],stroke:"#222",strokeWidth:1}),
      Plot.rect(cells,{x1:d=>d.i-1,x2:"i",y1:0,y2:1,fill:"c",stroke:"#222",strokeWidth:1.2}),
      Plot.axisX({ticks:d3.range(n),tickFormat:i=>String(row.levels[i]),tickSize:0,tickPadding:5,fontSize:21.5,label:null,fill:"#111"})
    ]});
  cb.style.position="absolute";cb.style.left="0px";cb.style.top=barTop[ri]+"px";
  page.appendChild(cb);
  const t=document.createElement("div");t.className="cbt";t.style.top=titleTop[ri]+"px";t.innerHTML=barTitles[ri];page.appendChild(t);
});
</script></body></html>
